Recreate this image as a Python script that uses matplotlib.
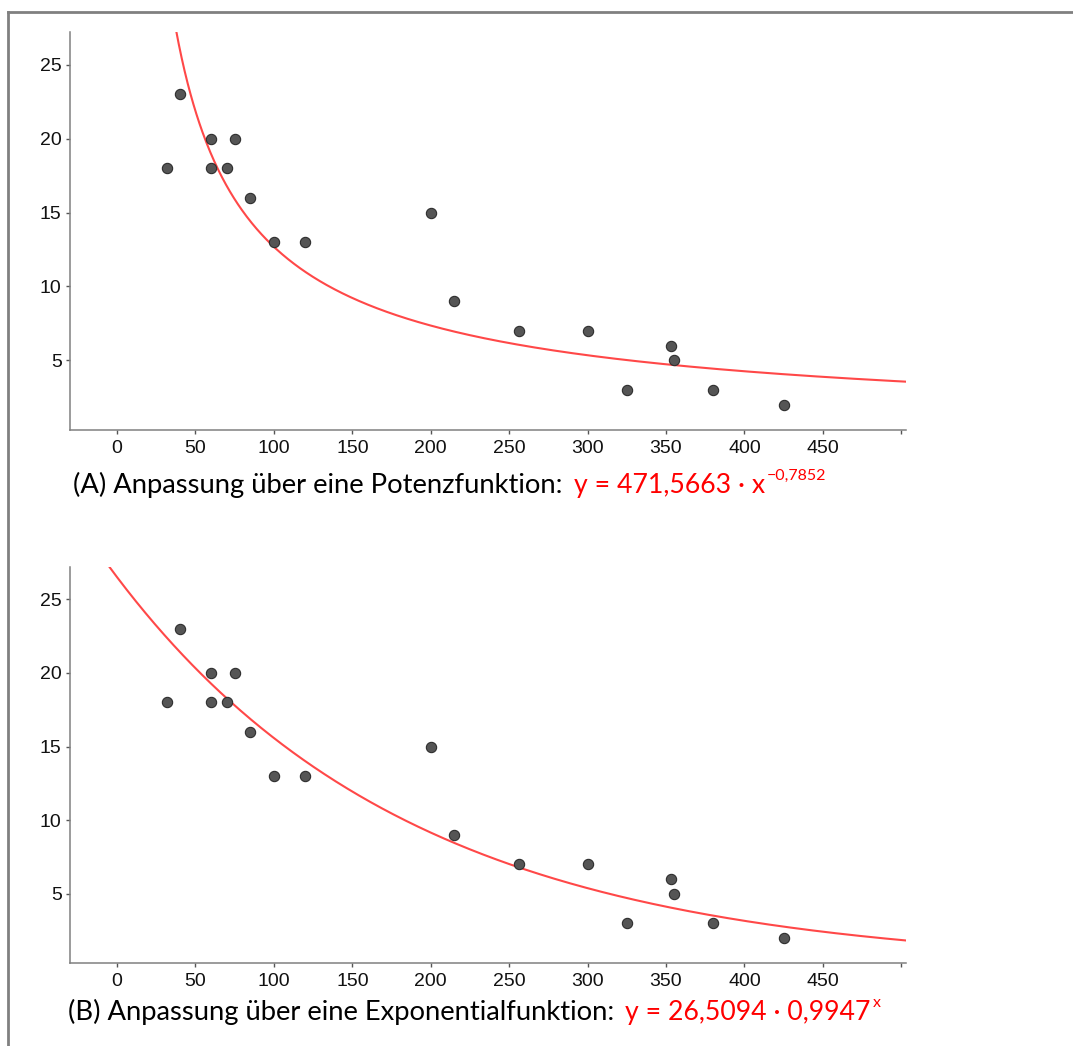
import matplotlib.pyplot as plt
import numpy as np
from matplotlib.lines import Line2D

plt.rcParams["font.family"] = ["Liberation Sans", "DejaVu Sans"]

# measured points (x, y)
x_data = [32, 40, 60, 60, 70, 75, 85, 100, 120, 200, 215, 256, 300, 325, 353, 355, 380, 425]
y_data = [18, 23, 20, 18, 18, 20, 16, 13, 13, 15, 9, 7, 7, 3, 6, 5, 3, 2]

# fitted models
pow_a, pow_b = 471.5663, -0.7852
exp_a, exp_b = 26.5094, 0.9947

x_ticks = [0, 50, 100, 150, 200, 250, 300, 350, 400, 450, 500]
x_ticklabels = ["0", "50", "100", "150", "200", "250", "300", "350", "400", "450", ""]
y_ticks = [5, 10, 15, 20, 25]

caption_a = "(A) Anpassung über eine Potenzfunktion:"
formula_a = "y = 471,5663 · x"
sup_a = "−0,7852"
caption_b = "(B) Anpassung über eine Exponentialfunktion:"
formula_b = "y = 26,5094 · 0,9947"
sup_b = "x"

W, H = 1073, 1046
fig = plt.figure(figsize=(W / 100, H / 100), dpi=100)

# thin gray frame (top and left edge)
frame_kw = dict(color="#808080", lw=2, transform=fig.transFigure)
fig.add_artist(Line2D([8 / W, 1], [1 - 12 / H, 1 - 12 / H], **frame_kw))
fig.add_artist(Line2D([8 / W, 8 / W], [0, 1 - 12 / H], **frame_kw))

cap_font = ["Lato", "DejaVu Sans"]


def style_axes(ax):
    ax.set_xlim(-30, 503)
    ax.set_ylim(0.3, 27.2)
    for s in ["top", "right"]:
        ax.spines[s].set_visible(False)
    for s in ["left", "bottom"]:
        ax.spines[s].set_color("#808080")
        ax.spines[s].set_linewidth(1.1)
    ax.set_xticks(x_ticks)
    ax.set_xticklabels(x_ticklabels)
    ax.set_yticks(y_ticks)
    ax.tick_params(length=3, width=1, color="#555555", labelsize=14,
                   labelcolor="#111111", pad=4)
    ax.tick_params(axis="y", pad=3)


def draw_points(ax):
    ax.scatter(x_data, y_data, s=55, color="#555555", edgecolor="#2e2e2e",
               linewidth=0.8, zorder=3)


# (A) power fit
ax1 = fig.add_axes([70 / W, 1 - 430 / H, 836 / W, 398 / H])
style_axes(ax1)
xs = np.linspace(1, 503, 800)
ax1.plot(xs, pow_a * xs ** pow_b, color="#ff4848", lw=1.5, zorder=2)
draw_points(ax1)

# (B) exponential fit
ax2 = fig.add_axes([70 / W, 1 - 963 / H, 836 / W, 396 / H])
style_axes(ax2)
xs = np.linspace(-30, 503, 800)
ax2.plot(xs, exp_a * exp_b ** xs, color="#ff4848", lw=1.5, zorder=2)
draw_points(ax2)

renderer = fig.canvas.get_renderer()


def add_caption(x, y, text, formula, sup):
    # black caption, then red formula and raised exponent on the same baseline
    t = fig.text(x / W, 1 - y / H, text, fontsize=19.7, family=cap_font,
                 color="black", va="baseline")
    x1 = t.get_window_extent(renderer).x1 + 11
    f = fig.text(x1 / W, 1 - y / H, formula, fontsize=19.2, family=cap_font,
                 color="red", va="baseline")
    x2 = f.get_window_extent(renderer).x1 + 2
    fig.text(x2 / W, 1 - (y - 13) / H, sup, fontsize=11.5, family=cap_font,
             color="red", va="baseline")


add_caption(73, 493, caption_a, formula_a, sup_a)
add_caption(68, 1020, caption_b, formula_b, sup_b)

fig.savefig("out.png", dpi=100)
